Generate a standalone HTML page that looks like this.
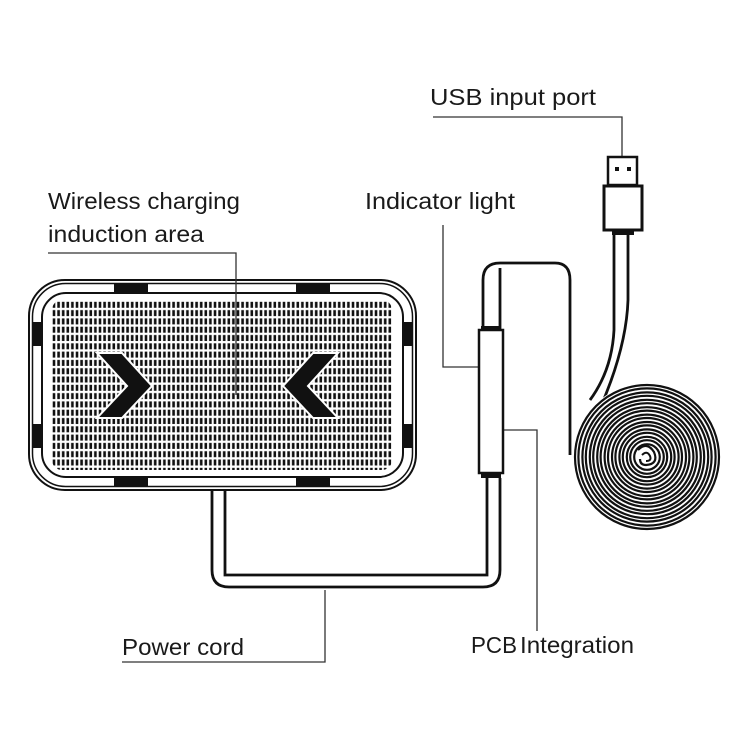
<!DOCTYPE html>
<html><head><meta charset="utf-8"><style>html,body{margin:0;padding:0;background:#fff}</style></head>
<body>
<svg width="750" height="750" viewBox="0 0 750 750" xmlns="http://www.w3.org/2000/svg">
<defs>
<pattern id="g" x="52" y="301" width="4.6" height="8.3" patternUnits="userSpaceOnUse">
<rect x="0.7" y="0.8" width="2.6" height="6" fill="#111"/>
</pattern>
<clipPath id="gc"><rect x="52" y="300" width="340" height="170" rx="10"/></clipPath>
</defs>
<g font-family="Liberation Sans, sans-serif" font-size="23" fill="#1a1a1a">
<text x="430" y="105" textLength="166" lengthAdjust="spacingAndGlyphs">USB input port</text>
<text x="365" y="209" textLength="150" lengthAdjust="spacingAndGlyphs">Indicator light</text>
<text x="48" y="209" textLength="192" lengthAdjust="spacingAndGlyphs">Wireless charging</text>
<text x="48" y="242" textLength="156" lengthAdjust="spacingAndGlyphs">induction area</text>
<text x="122" y="655" textLength="122" lengthAdjust="spacingAndGlyphs">Power cord</text>
<text x="471" y="653" textLength="46" lengthAdjust="spacingAndGlyphs">PCB</text>
<text x="520" y="653" textLength="114" lengthAdjust="spacingAndGlyphs">Integration</text>
</g>
<!-- pad -->
<rect x="29" y="280" width="387" height="210" rx="36" fill="none" stroke="#111" stroke-width="2"/>
<rect x="32.5" y="283.5" width="380" height="203" rx="33" fill="none" stroke="#111" stroke-width="1.5"/>
<rect x="42" y="293" width="361" height="184" rx="24" fill="none" stroke="#111" stroke-width="2"/>
<g fill="#111">
<rect x="114" y="284" width="34" height="9"/><rect x="296" y="284" width="34" height="9"/>
<rect x="114" y="477" width="34" height="9"/><rect x="296" y="477" width="34" height="9"/>
<rect x="33" y="322" width="9" height="24"/><rect x="33" y="424" width="9" height="24"/>
<rect x="403" y="322" width="9" height="24"/><rect x="403" y="424" width="9" height="24"/>
</g>
<rect x="52" y="300" width="340" height="170" fill="url(#g)" clip-path="url(#gc)"/>
<polygon points="97,353 122,353 152,386 122,418 97,418 127,386" fill="#111" stroke="#fff" stroke-width="2"/>
<polygon points="338,353 313,353 283,386 313,418 338,418 308,386" fill="#111" stroke="#fff" stroke-width="2"/>
<!-- leader lines -->
<g fill="none" stroke="#333" stroke-width="1.3">
<polyline points="433,117 622,117 622,157"/>
<polyline points="48,253 236,253 236,395"/>
<polyline points="443,225 443,367 487,367"/>
<polyline points="122,662 325,662 325,590"/>
<polyline points="497,430 537,430 537,631"/>
</g>
<circle cx="492" cy="366" r="1.5" fill="#111"/>
<!-- power cord -->
<g fill="none" stroke="#111" stroke-width="2.8">
<path d="M212,490 V570 Q212,587 229,587 H483 Q500,587 500,570 V478"/>
<path d="M225,490 V575 H487 V478"/>
<path d="M483,330 V280 Q483,263 500,263 H555 Q570,263 570,280 V455"/>
<path d="M500,330 V268"/>
<path d="M614,232 V330 Q612,370 590,400"/>
<path d="M628,232 V300 Q626,360 585,440"/>
</g>
<line x1="212" y1="490" x2="225" y2="490" stroke="#111" stroke-width="2"/>
<!-- PCB -->
<rect x="479" y="330" width="24" height="143" fill="#fff" stroke="#111" stroke-width="2.5"/>
<rect x="481" y="326" width="20" height="4" fill="#111"/>
<rect x="481" y="473" width="20" height="5" fill="#111"/>
<!-- USB -->
<rect x="608" y="157" width="29" height="28" fill="#fff" stroke="#111" stroke-width="2.5"/>
<rect x="615" y="167" width="4" height="4" fill="#111"/><rect x="627" y="167" width="4" height="4" fill="#111"/>
<rect x="604" y="186" width="38" height="44" fill="#fff" stroke="#111" stroke-width="3"/>
<rect x="612" y="230" width="22" height="5" fill="#111"/>
<!-- coil -->
<circle cx="647" cy="457" r="74" fill="#fff"/>
<g fill="none" stroke="#111" stroke-width="2.2">
<circle cx="647" cy="457" r="72"/><circle cx="647" cy="457" r="68.6"/>
<circle cx="647" cy="457" r="64.6"/><circle cx="647" cy="457" r="61.2"/>
<circle cx="647" cy="457" r="57.2"/><circle cx="647" cy="457" r="53.8"/>
<circle cx="647" cy="457" r="49.8"/><circle cx="647" cy="457" r="46.4"/>
<circle cx="647" cy="457" r="42.4"/><circle cx="647" cy="457" r="39"/>
<circle cx="647" cy="457" r="35"/><circle cx="647" cy="457" r="31.6"/>
<circle cx="647" cy="457" r="27.6"/><circle cx="647" cy="457" r="24.2"/>
<circle cx="647" cy="457" r="20.2"/><circle cx="647" cy="457" r="16.8"/>
<circle cx="647" cy="457" r="12.8"/>
<path d="M638,450 Q647,441 654,452 Q659,464 646,465 Q640,465 640,459" stroke-width="2.2"/>
<path d="M642,455 Q647,450 650,456 Q652,461 646,461" stroke-width="2"/>
</g>
</svg>
</body></html>
